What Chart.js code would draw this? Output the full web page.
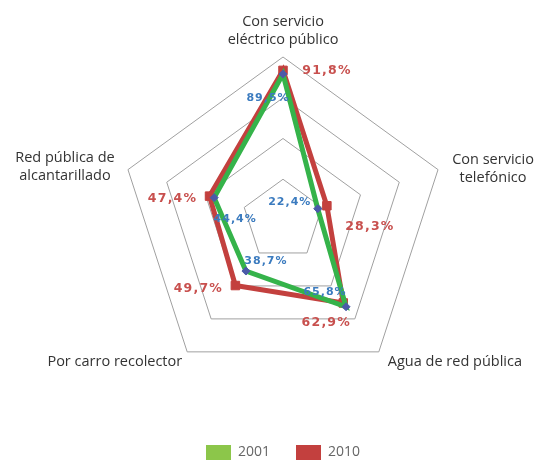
<!DOCTYPE html>
<html>
<head>
<meta charset="utf-8">
<script src="https://cdn.jsdelivr.net/npm/chart.js@4.4.0/dist/chart.umd.min.js"></script>
<style>
  html, body { margin: 0; padding: 0; background: #fff; }
  #wrap { width: 538px; height: 465px; }
</style>
</head>
<body>
<div id="wrap"><canvas id="radar"></canvas></div>
<script>
// categories (clockwise from top)
const categories = [
  ["Con servicio", "eléctrico público"],
  ["Con servicio", "telefónico"],
  ["Agua de red pública"],
  ["Por carro recolector"],
  ["Red pública de", "alcantarillado"],
];
const values2001 = [89.5, 22.4, 65.8, 38.7, 44.4];
const values2010 = [91.8, 28.3, 62.9, 49.7, 47.4];
const seriesNames = ["2001", "2010"];

// where each value label sits relative to its point [dx, dy]
const offsets2001 = [[-15, 24], [-28, -7], [-21, -15], [20, -10], [21, 22]];
const offsets2010 = [[44, 0], [43, 21], [-17, 20], [-37, 3], [-37, 3]];

const fmt = (v) => v.toFixed(1).replace(".", ",") + "%";

// axis titles placed off each vertex: [dx, dy of first line, align]
const titlePlace = [
  [0, -35, "center"],
  [55, -10, "center"],
  [9, 10, "left"],
  [-5, 10, "right"],
  [-63, -12, "center"],
];

const labelPlugin = {
  id: "labels",
  afterDatasetsDraw(chart) {
    const ctx = chart.ctx;
    const scale = chart.scales.r;
    ctx.save();
    ctx.textBaseline = "middle";

    // axis titles
    ctx.font = "14.5px 'Open Sans'";
    ctx.fillStyle = "#333";
    categories.forEach((lines, i) => {
      const p = scale.getPointPosition(i, scale.drawingArea);
      const [dx, dy, align] = titlePlace[i];
      ctx.textAlign = align;
      lines.forEach((t, k) => ctx.fillText(t, p.x + dx, p.y + dy + k * 18));
    });

    // value labels
    ctx.textAlign = "center";
    const sets = [
      { vals: values2001, off: offsets2001, color: "#3b7bbf", font: "bold 11px 'DejaVu Sans'", ls: "1px" },
      { vals: values2010, off: offsets2010, color: "#c8504e", font: "bold 12.5px 'DejaVu Sans'", ls: "1.2px" },
    ];
    sets.forEach((s, d) => {
      const meta = chart.getDatasetMeta(d);
      ctx.font = s.font;
      ctx.fillStyle = s.color;
      ctx.letterSpacing = s.ls;
      meta.data.forEach((pt, i) => {
        ctx.fillText(fmt(s.vals[i]), pt.x + s.off[i][0], pt.y + s.off[i][1]);
      });
    });
    ctx.restore();
  },
};

document.addEventListener("DOMContentLoaded", function () {
  const ctx = document.getElementById("radar").getContext("2d");

  new Chart(ctx, {
    type: "radar",
    data: {
      labels: categories,
      datasets: [
        {
          label: seriesNames[0],
          data: values2001,
          fill: false,
          borderColor: "#35b34a",
          backgroundColor: "#8cc64a",
          borderWidth: 5,
          pointStyle: "rectRot",
          pointRadius: 4,
          pointBackgroundColor: "#4b5aa8",
          pointBorderColor: "#4b5aa8",
          pointBorderWidth: 1,
        },
        {
          label: seriesNames[1],
          data: values2010,
          fill: false,
          borderColor: "#c3403e",
          backgroundColor: "#c3403e",
          borderWidth: 5,
          pointStyle: "rect",
          pointRadius: 6,
          pointBackgroundColor: "#c3403e",
          pointBorderColor: "#c3403e",
          pointBorderWidth: 1,
        },
      ],
    },
    options: {
      responsive: true,
      maintainAspectRatio: false,
      animation: false,
      layout: { padding: { top: 57, left: 28, right: 0, bottom: -5 } },
      scales: {
        r: {
          min: 0,
          max: 100,
          ticks: { stepSize: 25, display: false },
          grid: { color: "#a0a0a0", lineWidth: 1 },
          angleLines: { display: false },
          pointLabels: { display: false },
        },
      },
      plugins: {
        tooltip: { enabled: false },
        legend: {
          position: "bottom",
          title: { display: true, text: "", padding: { top: 23, bottom: 0 }, font: { size: 10 } },
          labels: {
            boxWidth: 25,
            boxHeight: 15,
            padding: 26,
            color: "#333",
            font: { family: "Open Sans", size: 14 },
            generateLabels(chart) {
              return chart.data.datasets.map((ds, i) => ({
                text: ds.label,
                fillStyle: ds.backgroundColor,
                strokeStyle: ds.backgroundColor,
                lineWidth: 0,
                datasetIndex: i,
              }));
            },
          },
        },
      },
    },
    plugins: [labelPlugin],
  });
});
</script>
</body>
</html>
